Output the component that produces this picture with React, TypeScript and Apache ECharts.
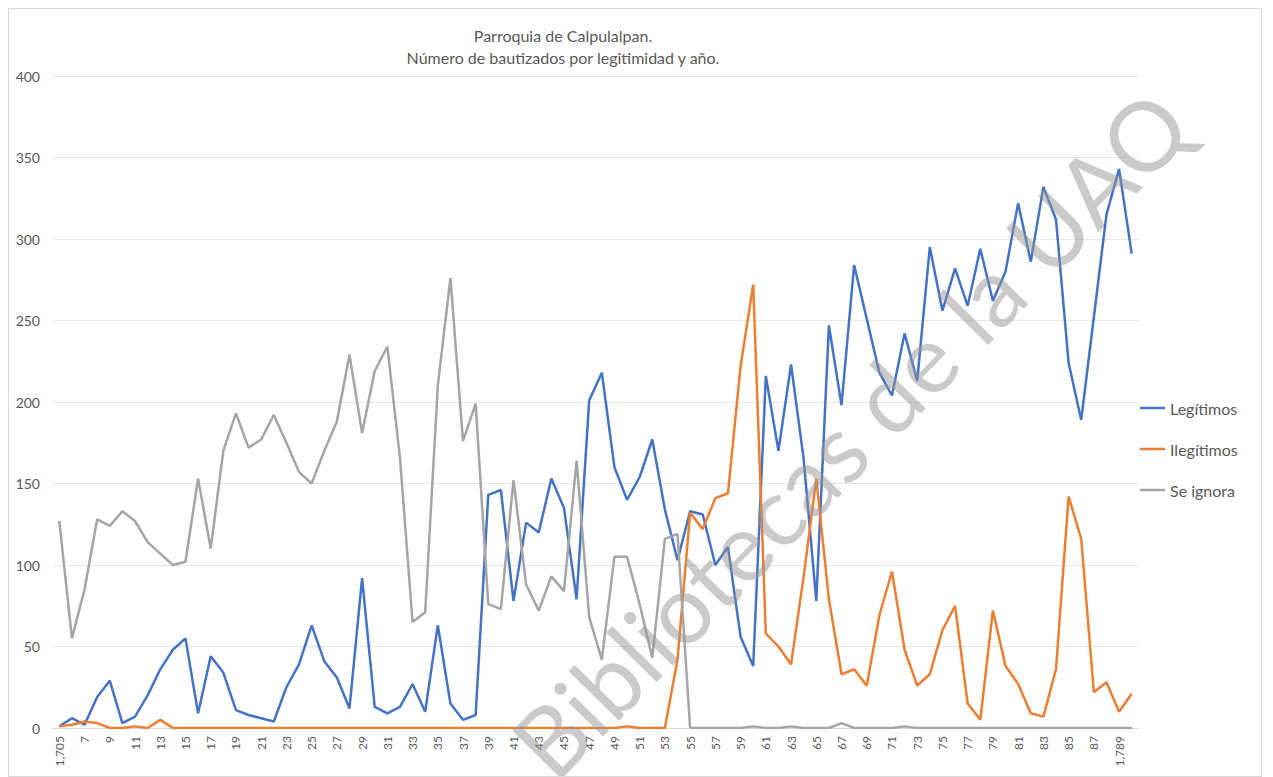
import React, { useEffect, useRef } from "react";
import * as echarts from "echarts";

const categories: string[] = [
  "1,705", "6", "7", "8", "9", "10", "11", "12", "13", "14",
  "15", "16", "17", "18", "19", "20", "21", "22", "23", "24",
  "25", "26", "27", "28", "29", "30", "31", "32", "33", "34",
  "35", "36", "37", "38", "39", "40", "41", "42", "43", "44",
  "45", "46", "47", "48", "49", "50", "51", "52", "53", "54",
  "55", "56", "57", "58", "59", "60", "61", "62", "63", "64",
  "65", "66", "67", "68", "69", "70", "71", "72", "73", "74",
  "75", "76", "77", "78", "79", "80", "81", "82", "83", "84",
  "85", "86", "87", "88", "1,789", "90",
];

const legitimos: number[] = [
  1, 6, 2, 19, 29, 3, 7, 20, 36, 48,
  55, 9, 44, 34, 11, 8, 6, 4, 25, 39,
  63, 41, 31, 12, 92, 13, 9, 13, 27, 10,
  63, 15, 5, 8, 143, 146, 78, 126, 120, 153,
  135, 79, 201, 218, 160, 140, 154, 177, 134, 103,
  133, 131, 100, 111, 56, 38, 216, 170, 223, 165,
  78, 247, 198, 284, 251, 218, 204, 242, 213, 295,
  256, 282, 259, 294, 262, 280, 322, 286, 332, 312,
  224, 189, 252, 315, 343, 291,
];

const ilegitimos: number[] = [
  1, 2, 4, 3, 0, 0, 1, 0, 5, 0,
  0, 0, 0, 0, 0, 0, 0, 0, 0, 0,
  0, 0, 0, 0, 0, 0, 0, 0, 0, 0,
  0, 0, 0, 0, 0, 0, 0, 0, 0, 0,
  0, 0, 0, 0, 0, 1, 0, 0, 0, 42,
  132, 122, 141, 144, 222, 272, 58, 50, 39, 93,
  153, 79, 33, 36, 26, 69, 96, 48, 26, 33,
  60, 75, 15, 5, 72, 38, 27, 9, 7, 36,
  142, 116, 22, 28, 10, 21,
];

const seIgnora: number[] = [
  127, 55, 85, 128, 124, 133, 127, 114, 107, 100,
  102, 153, 110, 170, 193, 172, 177, 192, 175, 157,
  150, 170, 188, 229, 181, 219, 234, 166, 65, 71,
  210, 276, 176, 199, 76, 73, 152, 88, 72, 93,
  84, 164, 68, 42, 105, 105, 76, 43, 116, 119,
  0, 0, 0, 0, 0, 1, 0, 0, 1, 0,
  0, 0, 3, 0, 0, 0, 0, 1, 0, 0,
  0, 0, 0, 0, 0, 0, 0, 0, 0, 0,
  0, 0, 0, 0, 0, 0,
];

const seriesNames: string[] = ["Legítimos", "Ilegítimos", "Se ignora"];
const seriesColors: string[] = ["#4472C4", "#ED7D31", "#A5A5A5"];
const titleLines: string[] = [
  "Parroquia de Calpulalpan.",
  "Número de bautizados por legitimidad y año.",
];
const watermark = "Bibliotecas de la UAQ";

const FONT = "Lato, 'Open Sans', sans-serif";

export default function App() {
  const ref = useRef<HTMLDivElement>(null);

  useEffect(() => {
    if (!ref.current) return;
    const chart = echarts.init(ref.current, undefined, { renderer: "svg" });
    const values = [legitimos, ilegitimos, seIgnora];
    chart.setOption({
      animation: false,
      backgroundColor: "#ffffff",
      textStyle: { fontFamily: FONT },
      grid: { left: 44, top: 67, width: 1085, height: 652, containLabel: false },
      legend: {
        orient: "vertical",
        left: 1131,
        top: 391,
        icon: "rect",
        itemWidth: 25,
        itemHeight: 2.5,
        itemGap: 25,
        padding: 0,
        data: seriesNames,
        textStyle: { fontSize: 16, lineHeight: 16, color: "#595959", fontFamily: FONT },
      },
      xAxis: {
        type: "category",
        data: categories,
        boundaryGap: true,
        axisLine: { show: true, lineStyle: { color: "#d9d9d9", width: 1 } },
        axisTick: { show: false },
        splitLine: { show: false },
        axisLabel: {
          interval: 1,
          rotate: 90,
          margin: 8,
          fontSize: 12,
          color: "#595959",
          fontFamily: FONT,
        },
      },
      yAxis: {
        type: "value",
        min: 0,
        max: 400,
        interval: 50,
        axisLine: { show: false },
        axisTick: { show: false },
        splitLine: { show: true, lineStyle: { color: "#e6e6e6", width: 1 } },
        axisLabel: { margin: 13, fontSize: 14, color: "#595959", fontFamily: FONT },
      },
      series: seriesNames.map((name, i) => ({
        name,
        type: "line",
        data: values[i],
        symbol: "none",
        showSymbol: false,
        color: seriesColors[i],
        itemStyle: { color: seriesColors[i] },
        lineStyle: { color: seriesColors[i], width: 2.5 },
        emphasis: { disabled: true },
      })),
      graphic: [
        {
          type: "text",
          x: 554,
          y: 26,
          style: {
            text: titleLines[0],
            textAlign: "center",
            textVerticalAlign: "middle",
            fontSize: 16,
            fontFamily: FONT,
            fill: "#595959",
          },
        },
        {
          type: "text",
          x: 554,
          y: 48,
          style: {
            text: titleLines[1],
            textAlign: "center",
            textVerticalAlign: "middle",
            fontSize: 16,
            fontFamily: FONT,
            fill: "#595959",
          },
        },
        {
          type: "text",
          x: 840,
          y: 424,
          rotation: (45.5 * Math.PI) / 180,
          z: 100,
          silent: true,
          style: {
            text: watermark,
            textAlign: "center",
            textVerticalAlign: "middle",
            fontSize: 96,
            fontFamily: FONT,
            fill: "rgba(150,150,150,0.5)",
          },
        },
      ],
    });
    return () => chart.dispose();
  }, []);

  return (
    <div
      ref={ref}
      style={{
        width: 1254,
        height: 769,
        border: "1px solid #d9d9d9",
        boxSizing: "border-box",
      }}
    />
  );
}
